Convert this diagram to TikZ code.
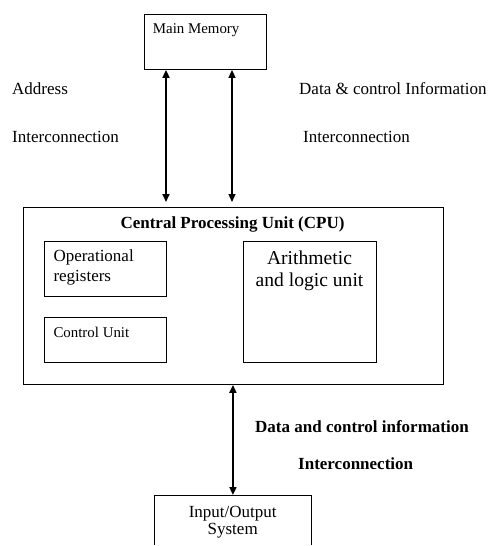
\documentclass[tikz,border=0pt]{standalone}
\usepackage{fontspec}
\setmainfont{Liberation Serif}
\usetikzlibrary{arrows.meta,calc}
\begin{document}
\begin{tikzpicture}[x=1pt,y=-1pt,
  box/.style={draw, line width=0.9pt, inner sep=0pt, anchor=north west},
  lbl/.style={inner sep=0pt, font=\fontsize{17}{19.5}\selectfont},
  small/.style={inner sep=0pt, font=\fontsize{14.9}{17}\selectfont},
  conn/.style={line width=1.7pt, {Triangle[length=8pt,width=7pt]}-{Triangle[length=8pt,width=7pt]}}]
\useasboundingbox (0,0) rectangle (490,546);
% boxes
\node[box, minimum width=122pt, minimum height=55pt] (mm) at (144,14) {};
\node[box, minimum width=420pt, minimum height=177pt] (cpu) at (23,207) {};
\node[box, minimum width=122pt, minimum height=55pt] (reg) at (44,241) {};
\node[box, minimum width=122pt, minimum height=45pt] (cu) at (44,317) {};
\node[box, minimum width=133pt, minimum height=121pt] (alu) at (243,241) {};
\node[box, draw=none, minimum width=156pt, minimum height=49pt] (io) at (154.5,495) {};
\draw[line width=0.9pt] (io.south west) -- (io.north west) -- (io.north east) -- (io.south east);
% texts
\node[small, anchor=base west] (mmt) at (152.7,33.3) {Main Memory};
\node[lbl, anchor=base west] (addr) at (12,94) {Address};
\node[lbl, anchor=base west] (ic1) at (12,142) {Interconnection};
\node[lbl, anchor=base west] (dci) at (299,94) {Data \& control Information};
\node[lbl, anchor=base west] (ic2) at (303,142) {Interconnection};
\node[lbl, anchor=base, font=\fontsize{17}{19.5}\selectfont\bfseries] (cput) at (232.5,228) {Central Processing Unit (CPU)};
\node[lbl, anchor=north west, align=left] (regt) at (53.3,250) {Operational\\registers};
\node[small, anchor=base west] (cut) at (53.3,337.3) {Control Unit};
\node[inner sep=0pt, font=\fontsize{19.6}{22}\selectfont, anchor=north, align=center] (alut) at (309.5,250.5) {Arithmetic\\and logic unit};
\node[lbl, anchor=base west, font=\fontsize{17}{19.5}\selectfont\bfseries] (dci2) at (255,432.3) {Data and control information};
\node[lbl, anchor=base west, font=\fontsize{17}{19.5}\selectfont\bfseries] (ic3) at (298,469.3) {Interconnection};
\node[inner sep=0pt, font=\fontsize{17}{16.5}\selectfont, anchor=north, align=center] (iot) at (232.7,506.3) {Input/Output\\System};
% connectors
\draw[conn, line width=1.8pt] ($(mm.south west)+(22,0)$) -- ($(mm.south west |- cpu.north)+(22,-5)$);
\draw[conn, line width=1.5pt] ($(mm.south west)+(88,0)$) -- ($(mm.south west |- cpu.north)+(88,-5)$);
\draw[conn, line width=1.8pt] (io.north) -- (io.north |- cpu.south);
\end{tikzpicture}
\end{document}
